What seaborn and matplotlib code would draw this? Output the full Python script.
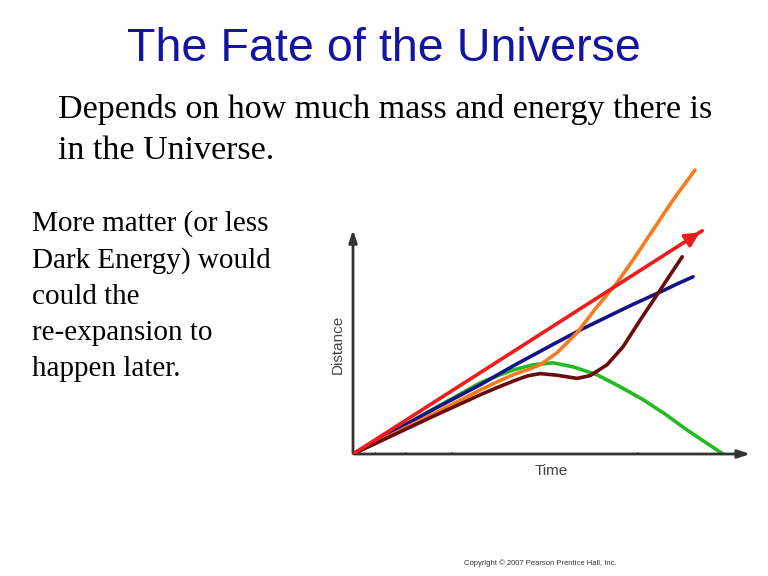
import numpy as np
import pandas as pd
import matplotlib
matplotlib.use("Agg")
import matplotlib.pyplot as plt
import seaborn as sns

# ---- data (arbitrary units) ----
red_t = [0.0, 8.73]
red_d = [0.0, 5.58]

blue_t = [0.0, 1.0, 2.0, 3.18, 4.0, 5.0, 5.68, 6.5, 7.0, 7.68, 8.1, 8.5]
blue_d = [0.0, 0.56, 1.11, 1.73, 2.2, 2.74, 3.1, 3.5, 3.74, 4.05, 4.25, 4.43]

orange_t = [0.0, 1.0, 2.0, 3.18, 3.6, 4.0, 4.35, 4.68, 5.1, 5.6, 6.1, 6.6, 7.0, 7.5, 8.0, 8.55]
orange_d = [0.0, 0.5, 1.0, 1.6, 1.8, 1.98, 2.1, 2.23, 2.53, 3.03, 3.68, 4.28, 4.85, 5.6, 6.35, 7.1]

green_t = [0.0, 1.0, 2.0, 3.18, 3.6, 4.0, 4.5, 5.0, 5.5, 6.1, 6.68, 7.25, 7.8, 8.35, 8.8, 9.25]
green_d = [0.0, 0.56, 1.12, 1.78, 1.95, 2.1, 2.23, 2.28, 2.18, 1.98, 1.68, 1.36, 1.0, 0.6, 0.3, 0.0]

brown_t = [0.0, 1.0, 2.0, 3.18, 3.6, 4.0, 4.35, 4.68, 5.1, 5.6, 5.93, 6.35, 6.75, 7.18, 7.6, 7.93, 8.23]
brown_d = [0.0, 0.47, 0.94, 1.48, 1.66, 1.82, 1.95, 2.01, 1.97, 1.89, 1.96, 2.23, 2.68, 3.35, 3.98, 4.48, 4.93]

curves = [
    ("green", green_t, green_d, "#22bb22"),
    ("blue", blue_t, blue_d, "#141489"),
    ("red", red_t, red_d, "#ee1c1c"),
    ("orange", orange_t, orange_d, "#f47c20"),
    ("brown", brown_t, brown_d, "#6a0c0c"),
]

x_label = "Time"
y_label = "Distance"
title = "The Fate of the Universe"
subtitle = "Depends on how much mass and energy there is\nin the Universe."
side_text = "More matter (or less\nDark Energy) would\ncould the\nre-expansion to\nhappen later."
copyright_text = "Copyright \u00a9 2007 Pearson Prentice Hall, Inc."

sns.set_theme(style="white")
plt.rcParams["font.family"] = ["Liberation Sans", "DejaVu Sans"]

W, H = 768, 576
fig = plt.figure(figsize=(W / 100, H / 100), dpi=100)
fig.patch.set_facecolor("white")

# axes: origin at pixel (353, 454); 40 px per unit
ox, oy = 353, 454
xmax, ymax = 10.0, 7.4
ax = fig.add_axes([ox / W, (H - oy) / H, xmax * 40 / W, ymax * 40 / H])
ax.set_xlim(0, xmax)
ax.set_ylim(0, ymax)
ax.axis("off")

for name, t, d, c in curves:
    df = pd.DataFrame({"t": t, "d": d})
    sns.lineplot(data=df, x="t", y="d", ax=ax, color=c, lw=2.6, sort=False,
                 solid_capstyle="round", solid_joinstyle="round",
                 zorder=3 if name != "red" else 4)

# red arrow head
ax.annotate("", xy=(red_t[-1], red_d[-1]),
            xytext=(red_t[-1] - 0.4, red_d[-1] - 0.4 * red_d[-1] / red_t[-1]),
            arrowprops=dict(arrowstyle="-|>,head_length=0.7,head_width=0.35",
                            color="#ee1c1c", lw=2.6), zorder=5)

# axis arrows
ax.annotate("", xy=(10.0, 0), xytext=(-0.05, 0),
            arrowprops=dict(arrowstyle="-|>,head_length=0.6,head_width=0.2",
                            color="#333333", lw=2), annotation_clip=False)
ax.annotate("", xy=(0, 5.67), xytext=(0, -0.05),
            arrowprops=dict(arrowstyle="-|>,head_length=0.6,head_width=0.2",
                            color="#333333", lw=2), annotation_clip=False)
# small tick marks on time axis
for tx in [0.55, 1.3, 2.45, 7.1]:
    ax.plot([tx, tx], [0, 0.04], color="#555555", lw=0.8)

ax.text(4.95, -0.42, x_label, ha="center", va="center", fontsize=11, color="#444444")
ax.text(-0.38, 2.75, y_label, ha="center", va="center", fontsize=11,
        color="#444444", rotation=90)

# slide texts
fig.text(384 / W, 1 - 49 / H, title, ha="center", va="center", fontsize=33.6,
         color="#1414a4")
fig.text(58 / W, 1 - 130 / H, subtitle, ha="left", va="center", fontsize=24.5,
         family=["Liberation Serif", "DejaVu Serif"], linespacing=1.48, color="black")
fig.text(32 / W, 1 - 296 / H, side_text, ha="left", va="center", fontsize=21,
         family=["Liberation Serif", "DejaVu Serif"], linespacing=1.49, color="black")
fig.text(540 / W, 1 - 563 / H, copyright_text, ha="center", va="center",
         fontsize=5.5, color="#333333")

fig.savefig("out.png", dpi=100, facecolor="white")
